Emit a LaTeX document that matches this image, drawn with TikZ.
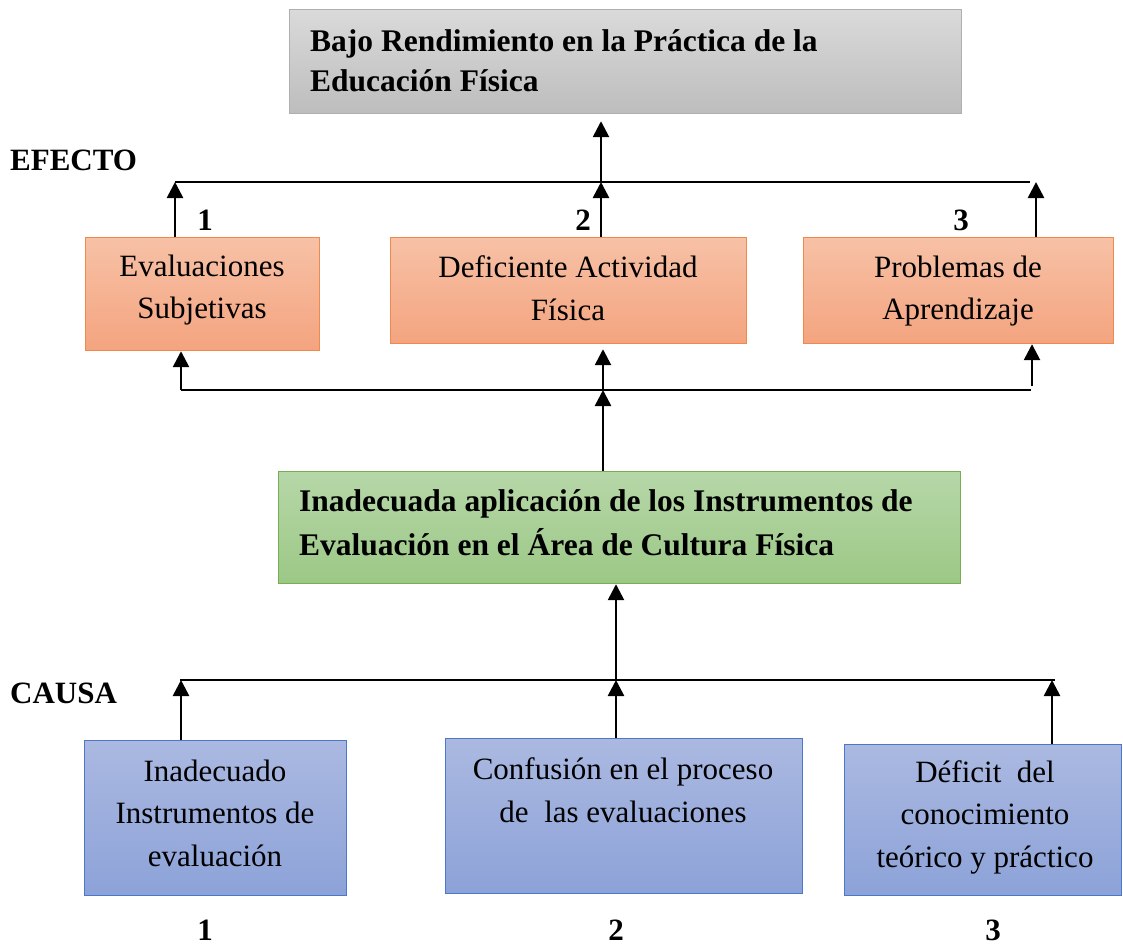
\documentclass[tikz,border=0pt]{standalone}
\usepackage{fontspec}
\setmainfont{Liberation Serif}
\usetikzlibrary{arrows.meta}
\definecolor{grayT}{HTML}{DADADA}
\definecolor{grayB}{HTML}{BDBDBD}
\definecolor{grayD}{HTML}{AFAFAF}
\definecolor{orT}{HTML}{F7C1A6}
\definecolor{orB}{HTML}{F4A47F}
\definecolor{orD}{HTML}{EE8A4E}
\definecolor{grT}{HTML}{B6D7A8}
\definecolor{grB}{HTML}{9CC886}
\definecolor{grD}{HTML}{77AE52}
\definecolor{blT}{HTML}{ABB9E1}
\definecolor{blB}{HTML}{8CA2D8}
\definecolor{blD}{HTML}{4A78CC}
\tikzset{
  boxbase/.style={draw, line width=1.2pt, anchor=north west, inner sep=0pt, shading=axis, shading angle=0},
  graybox/.style={boxbase, draw=grayD, top color=grayT, bottom color=grayB},
  orbox/.style={boxbase, draw=orD, top color=orT, bottom color=orB},
  grbox/.style={boxbase, draw=grD, top color=grT, bottom color=grB},
  blbox/.style={boxbase, draw=blD, top color=blT, bottom color=blB},
  txt/.style={inner sep=0pt, align=center, font=\fontsize{31}{42.5}\selectfont},
  btxt/.style={inner sep=0pt, align=left, anchor=west, font=\fontsize{31.5}{40}\selectfont\bfseries},
  lbl/.style={inner sep=0pt, font=\fontsize{31}{36}\selectfont\bfseries},
  conn/.style={line width=2.3pt},
  arr/.style={line width=2.6pt, -{Triangle[length=16pt,width=16pt]}},
}
\begin{document}
\begin{tikzpicture}[x=1pt,y=-1pt]
\useasboundingbox (0,0) rectangle (1123,946);
% boxes
\node[graybox, minimum width=672pt, minimum height=104pt] (top) at (289,9) {};
\node[btxt] (toptxt) at (310,61) {Bajo Rendimiento en la Práctica de la\\Educación Física};

\node[orbox, minimum width=234pt, minimum height=113pt] (e1) at (85,237) {};
\node[orbox, minimum width=356pt, minimum height=106pt] (e2) at (390,237) {};
\node[orbox, minimum width=310pt, minimum height=106pt] (e3) at (803,237) {};
\node[txt] (e1t) at (202,290) {Evaluaciones\\Subjetivas};
\node[txt] (e2t) at (568,288) {Deficiente Actividad\\Física};
\node[txt] (e3t) at (958,291) {Problemas de\\Aprendizaje};

\node[grbox, minimum width=682pt, minimum height=112pt] (mid) at (278,471) {};
\node[btxt, font=\fontsize{31.5}{44}\selectfont\bfseries] (midtxt) at (299,523) {Inadecuada aplicación de los Instrumentos de\\Evaluación en el Área de Cultura Física};

\node[blbox, minimum width=262pt, minimum height=155pt] (c1) at (84,740) {};
\node[blbox, minimum width=357pt, minimum height=155pt] (c2) at (445,738) {};
\node[blbox, minimum width=277pt, minimum height=151pt] (c3) at (844,744) {};
\node[txt] (c1t) at (215,813) {Inadecuado\\Instrumentos de\\evaluación};
\node[txt] (c2t) at (623,790) {Confusión en el proceso\\de\ \ las evaluaciones};
\node[txt] (c3t) at (985,817) {Déficit\ \ del\\conocimiento\\teórico y práctico};

% labels
\node[lbl, anchor=west] (efecto) at (10,160) {EFECTO};
\node[lbl, anchor=west] (causa) at (10,693) {CAUSA};
\node[lbl] (n1) at (205,220) {1};
\node[lbl] (n2) at (583,220) {2};
\node[lbl] (n3) at (961,220) {3};
\node[lbl] (m1) at (205,930) {1};
\node[lbl] (m2) at (616,930) {2};
\node[lbl] (m3) at (993,930) {3};

% effect bus
\coordinate (tL) at (175,182);
\coordinate (tR) at (1030,182);
\coordinate (t1) at (175,182);
\coordinate (t2) at (601,182);
\coordinate (t3) at (1036,182);
\draw[conn] (tL) -- (tR);
\draw[arr, shorten >=7pt] (t2) -- (top.south -| t2);
\draw[arr] (e1.north -| t1) -- (t1);
\draw[arr] (e2.north -| t2) -- (t2);
\draw[arr] (e3.north -| t3) -- (t3);

% middle bus
\coordinate (mL) at (181,390);
\coordinate (mR) at (1031,390);
\coordinate (m2c) at (603,390);
\coordinate (m3c) at (1032,386);
\draw[conn] (mL) -- (mR);
\draw[arr] (mL) -- (e1.south -| mL);
\draw[arr, shorten >=5pt] (m2c) -- (e2.south -| m2c);
\draw[arr] (m3c) -- (e3.south -| m3c);
\draw[arr] (mid.north -| m2c) -- (m2c);

% cause bus
\coordinate (bL) at (180,680);
\coordinate (bR) at (1055,680);
\coordinate (b1) at (181,680);
\coordinate (b2) at (616,680);
\coordinate (b3) at (1052,680);
\draw[conn] (bL) -- (bR);
\draw[arr] (b2) -- (mid.south -| b2);
\draw[arr] (c1.north -| b1) -- (b1);
\draw[arr] (c2.north -| b2) -- (b2);
\draw[arr] (c3.north -| b3) -- (b3);
\end{tikzpicture}
\end{document}
